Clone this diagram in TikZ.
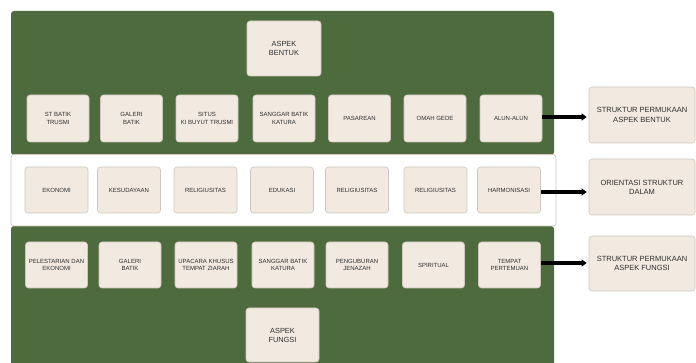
\documentclass[tikz,border=0pt]{standalone}
\usepackage{fontspec}
\setmainfont{Liberation Sans}
\usetikzlibrary{arrows.meta}
\definecolor{panelgreen}{HTML}{4E6B3D}
\definecolor{cellfill}{HTML}{F2EAE1}
\definecolor{celledge}{HTML}{CFC7BD}
\definecolor{celltext}{HTML}{2E2E2E}
\tikzset{
  cell/.style={draw=celledge, line width=0.6pt, fill=cellfill, rounded corners=3pt,
    align=center, text=celltext, font=\fontsize{6}{7.2}\selectfont,
    inner sep=1pt, minimum width=62pt, minimum height=47pt},
  headcell/.style={cell, font=\fontsize{7.4}{9}\selectfont, minimum width=74pt, minimum height=55pt},
  sidecell/.style={cell, font=\fontsize{7.5}{9.2}\selectfont, minimum width=106pt, minimum height=56pt},
  greenpanel/.style={fill=panelgreen, rounded corners=3pt},
  whitepanel/.style={fill=white, draw=celledge, line width=0.6pt, rounded corners=3pt},
  link/.style={line width=3.2pt, -{Triangle[length=5pt,width=7pt]}, shorten >=2pt}
}
\begin{document}
\begin{tikzpicture}[x=1pt,y=-1pt]
\useasboundingbox[fill=white] (0,0) rectangle (696,363);

% three bands
\fill[greenpanel] (11,11) rectangle (554,155);
\begin{scope}
  \clip (0,0) rectangle (696,363);
  \fill[greenpanel] (11,226) rectangle (554,375);
\end{scope}
\draw[whitepanel] (11,154.5) rectangle (556,226);

% form aspect
\node[headcell] (bentuk) at (284,48.5) {ASPEK\\BENTUK};
\node[cell] (f1) at (58,118.5) {ST BATIK\\TRUSMI};
\node[cell] (f2) at (131.5,118.5) {GALERI\\BATIK};
\node[cell] (f3) at (207,118.5) {SITUS\\KI BUYUT TRUSMI};
\node[cell] (f4) at (284,118.5) {SANGGAR BATIK\\KATURA};
\node[cell] (f5) at (359.5,118.5) {PASAREAN};
\node[cell] (f6) at (435,118.5) {OMAH GEDE};
\node[cell] (f7) at (511,118.5) {ALUN-ALUN};

% deep structure
\node[cell, minimum height=46pt, minimum width=63pt] (d1) at (56.5,190) {EKONOMI};
\node[cell, minimum height=46pt, minimum width=63pt] (d2) at (129,190) {KESUDAYAAN};
\node[cell, minimum height=46pt, minimum width=63pt] (d3) at (205.5,190) {RELIGIUSITAS};
\node[cell, minimum height=46pt, minimum width=63pt] (d4) at (282,190) {EDUKASI};
\node[cell, minimum height=46pt, minimum width=63pt] (d5) at (357,190) {RELIGIUSITAS};
\node[cell, minimum height=46pt, minimum width=63pt] (d6) at (435.5,190) {RELIGIUSITAS};
\node[cell, minimum height=46pt, minimum width=63pt] (d7) at (509,190) {HARMONISASI};

% function aspect
\node[cell, minimum height=46pt] (u1) at (56.5,265) {PELESTARIAN DAN\\EKONOMI};
\node[cell, minimum height=46pt] (u2) at (130,265) {GALERI\\BATIK};
\node[cell, minimum height=46pt] (u3) at (206,265) {UPACARA KHUSUS\\TEMPAT ZIARAH};
\node[cell, minimum height=46pt] (u4) at (283,265) {SANGGAR BATIK\\KATURA};
\node[cell, minimum height=46pt] (u5) at (357,265) {PENGUBURAN\\JENAZAH};
\node[cell, minimum height=46pt] (u6) at (433.5,265) {SPIRITUAL};
\node[cell, minimum height=46pt] (u7) at (509.5,265) {TEMPAT\\PERTEMUAN};
\node[headcell, minimum width=73pt, minimum height=54pt] (fungsi) at (282.5,335) {ASPEK\\FUNGSI};

% outcomes
\node[sidecell] (s1) at (642,115) {STRUKTUR PERMUKAAN\\ASPEK BENTUK};
\node[sidecell] (s2) at (642,187) {ORIENTASI STRUKTUR\\DALAM};
\node[sidecell, minimum height=55pt] (s3) at (642,263.5) {STRUKTUR PERMUKAAN\\ASPEK FUNGSI};

\draw[link] (f7.east |- 0,117) -- (s1.west |- 0,117);
\draw[link] (d7.east |- 0,192) -- (s2.west |- 0,192);
\draw[link] (u7.east |- 0,263) -- (s3.west |- 0,263);
\end{tikzpicture}
\end{document}
